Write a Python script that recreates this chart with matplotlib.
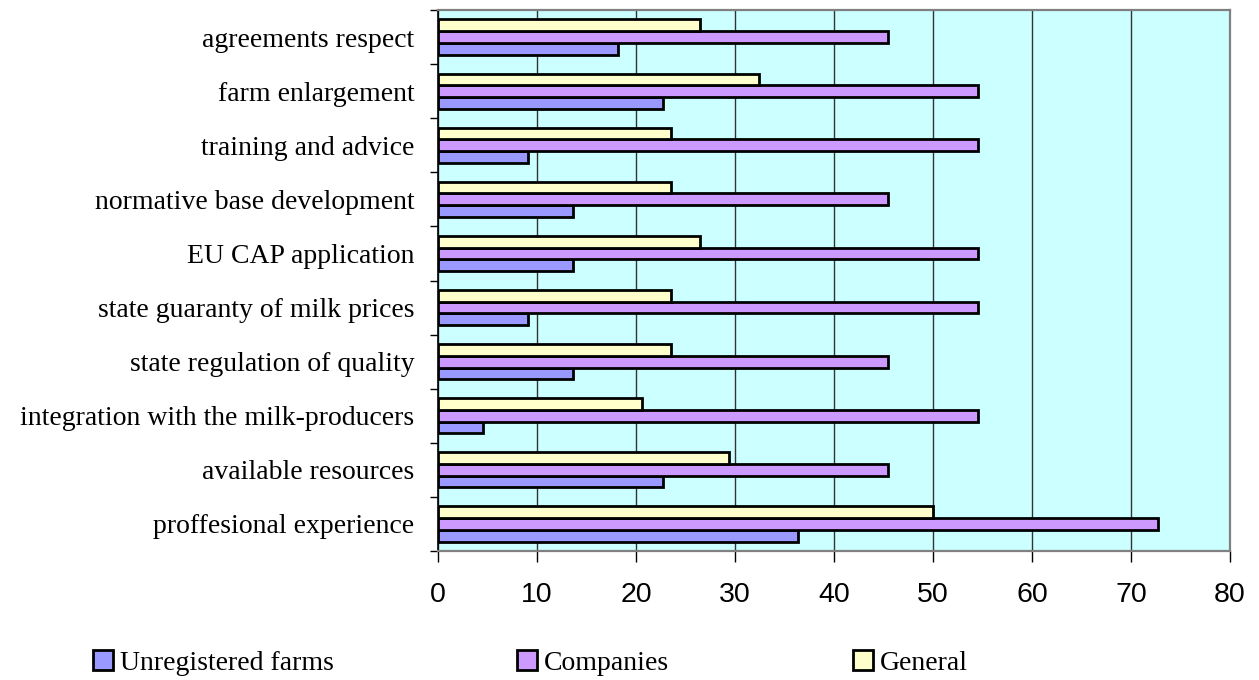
import matplotlib
matplotlib.use("Agg")
import matplotlib.pyplot as plt
import numpy as np
from matplotlib.patches import Patch

categories = [
    "proffesional experience",
    "available resources",
    "integration with the milk-producers",
    "state regulation of quality",
    "state guaranty of milk prices",
    "EU CAP application",
    "normative base development",
    "training and advice",
    "farm enlargement",
    "agreements respect",
]
unregistered = [36.4, 22.7, 4.5, 13.6, 9.1, 13.6, 13.6, 9.1, 22.7, 18.2]
companies = [72.7, 45.5, 54.5, 45.5, 54.5, 54.5, 45.5, 54.5, 54.5, 45.5]
general = [50.0, 29.4, 20.6, 23.5, 23.5, 26.5, 23.5, 23.5, 32.4, 26.5]
series_names = ["Unregistered farms", "Companies", "General"]
colors = ["#9999FF", "#CC99FF", "#FFFFCC"]
xticks = [0, 10, 20, 30, 40, 50, 60, 70, 80]

fig = plt.figure(figsize=(12.59, 6.80), dpi=100)
ax = fig.add_axes([438 / 1259, 1 - 551 / 680, (1230 - 438) / 1259, (551 - 10) / 680])
ax.set_facecolor("#CCFFFF")

y = np.arange(len(categories))
h = 0.217
for i, (vals, col, name) in enumerate(zip([unregistered, companies, general], colors, series_names)):
    ax.barh(y + (i - 1) * h, vals, height=h, color=col, edgecolor="black",
            linewidth=2.0, label=name, zorder=3)

ax.set_xlim(0, 80)
ax.set_ylim(-0.5, len(categories) - 0.5)
ax.set_xticks(xticks)
ax.set_xticklabels([str(t) for t in xticks], fontsize=20.5, family="Liberation Sans")
ax.xaxis.grid(True, color="#333333", linewidth=1.0, zorder=1)
ax.set_axisbelow(True)
ax.tick_params(axis="x", direction="out", length=8, width=1, color="black", pad=14)

ax.set_yticks(y)
ax.set_yticklabels(categories, fontsize=20, family="Liberation Serif")
ax.tick_params(axis="y", which="major", length=0, pad=17)
ax.set_yticks(np.arange(-0.5, len(categories), 1.0), minor=True)
ax.tick_params(axis="y", which="minor", direction="out", length=6, width=1, color="black")

ax.spines["left"].set_color("black")
ax.spines["left"].set_linewidth(1.2)
for s in ["top", "right", "bottom"]:
    ax.spines[s].set_color("#808080")
    ax.spines[s].set_linewidth(1.6)

handles = [Patch(facecolor=c, edgecolor="black", linewidth=2.0) for c in colors]
fig.legend(handles, series_names, loc="center left",
           bbox_to_anchor=(93 / 1259, 1 - 663 / 680), ncol=3, frameon=False,
           prop={"family": "Liberation Serif", "size": 20},
           handlelength=0.72, handleheight=0.72, handletextpad=0.25,
           columnspacing=6.6, borderpad=0, borderaxespad=0)

fig.savefig("out.png", dpi=100)
